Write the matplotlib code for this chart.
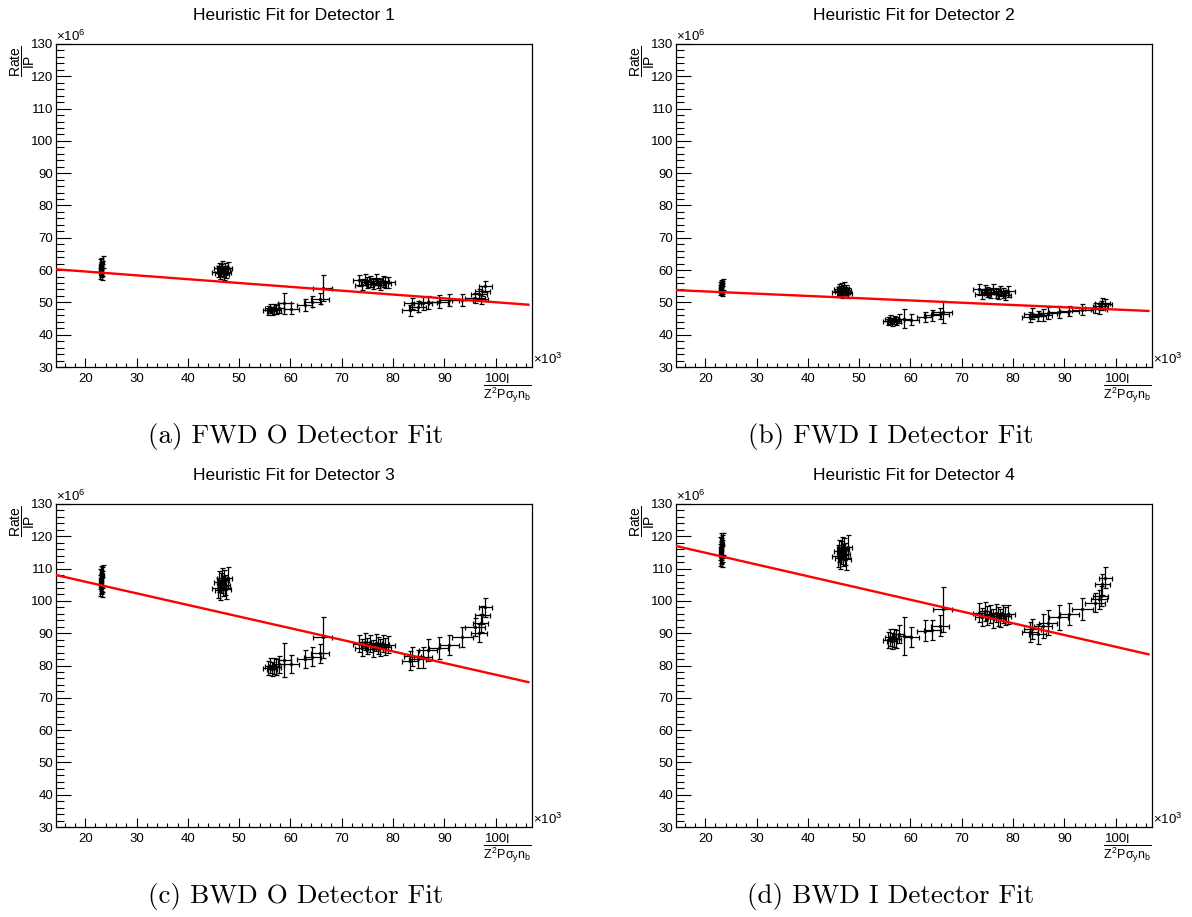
import numpy as np
import matplotlib
matplotlib.use('Agg')
import matplotlib.pyplot as plt
from matplotlib.ticker import MultipleLocator

W, H, DPI = 1192, 917, 100

plt.rcParams['font.family'] = ['Liberation Sans', 'DejaVu Sans']
plt.rcParams['mathtext.fontset'] = 'custom'
plt.rcParams['mathtext.rm'] = 'Liberation Sans'
plt.rcParams['mathtext.it'] = 'Liberation Sans'
plt.rcParams['mathtext.bf'] = 'Liberation Sans:bold'
plt.rcParams['mathtext.sf'] = 'Liberation Sans'

# ---------------- data (x in units of 10^3, rate in units of 10^6) ----------------
x_run = [22.85, 22.95, 23.0, 23.05, 23.1, 23.15, 23.2, 23.25, 23.3, 23.4,
         45.8, 46.1, 46.3, 46.5, 46.7, 46.9, 47.1, 47.3, 47.5, 47.8,
         55.6, 56.0, 56.4, 56.8, 57.2, 57.7, 58.8, 60.2, 62.8, 64.3, 65.8, 66.3,
         73.4, 73.9, 74.5, 75.0, 75.6, 76.1, 76.6, 77.0, 77.5, 78.0, 78.4, 79.0,
         83.3, 83.8, 84.8, 85.9, 86.8, 88.9, 91.0, 93.5, 96.0, 96.8, 97.1, 97.4, 98.0]
x_err = [0.25] * 10 + \
        [1.0, 0.9, 1.0, 0.9, 1.0, 0.9, 1.0, 0.9, 1.0, 0.9] + \
        [0.9, 0.9, 1.0, 1.0, 1.0, 1.1, 1.3, 1.4, 1.5, 1.6, 1.7, 1.8] + \
        [1.2, 1.3, 1.2, 1.3, 1.2, 1.3, 1.2, 1.3, 1.2, 1.3, 1.2, 1.3] + \
        [1.6, 1.7, 1.7, 1.8, 1.8, 1.9, 1.9, 2.0, 2.0, 1.6, 1.5, 1.5, 1.3]
rel_err = [0.03] * 10 + [0.03] * 10 + \
          [0.028, 0.03, 0.028, 0.03, 0.03, 0.032, 0.065, 0.035, 0.035, 0.035, 0.035, 0.072] + \
          [0.03] * 12 + \
          [0.035, 0.035, 0.035, 0.04, 0.04, 0.04, 0.035, 0.035, 0.03, 0.03, 0.03, 0.03, 0.03]

rate_det1 = [59.0, 61.5, 60.2, 62.0, 59.6, 60.8, 58.8, 61.0, 60.0, 62.5,
             59.5, 60.5, 59.0, 60.0, 61.0, 59.6, 58.8, 60.3, 59.4, 60.8,
             47.5, 48.2, 47.3, 48.0, 47.7, 48.4, 49.7, 48.0, 49.2, 50.2, 51.2, 54.5,
             56.8, 55.5, 57.0, 56.2, 56.5, 55.8, 57.2, 56.0, 55.5, 56.6, 56.1, 56.3,
             47.6, 49.7, 48.7, 49.7, 50.0, 50.2, 50.7, 50.8, 51.5, 52.5, 51.0, 53.5, 55.0]
rate_det2 = [53.8, 54.8, 54.2, 55.3, 54.0, 54.6, 53.6, 55.0, 54.3, 55.6,
             53.2, 54.0, 53.5, 54.4, 53.0, 53.8, 54.6, 53.3, 53.9, 52.8,
             44.2, 44.8, 44.0, 44.6, 44.3, 45.0, 45.0, 44.7, 45.5, 46.0, 46.5, 47.0,
             54.0, 52.6, 53.8, 53.2, 52.8, 54.2, 53.0, 52.5, 53.6, 53.0, 52.4, 53.4,
             45.5, 46.5, 45.8, 46.2, 46.8, 47.0, 47.3, 47.8, 48.3, 48.0, 49.0, 49.8, 49.5]
rate_det3 = [104.8, 106.8, 105.5, 107.6, 105.2, 106.4, 104.4, 107.2, 106.0, 108.0,
             104.0, 106.0, 103.5, 105.5, 107.0, 104.5, 106.5, 105.0, 103.8, 107.2,
             79.2, 80.0, 79.0, 79.8, 79.5, 80.4, 81.7, 80.5, 82.0, 82.7, 83.8, 88.7,
             86.8, 85.5, 87.4, 86.0, 86.8, 85.2, 87.0, 86.2, 85.5, 86.8, 85.8, 86.4,
             81.5, 82.9, 82.0, 82.5, 84.8, 85.3, 86.3, 88.7, 91.8, 90.0, 93.1, 95.6, 98.0]
rate_det4 = [114.2, 116.3, 115.2, 117.4, 114.8, 116.0, 114.0, 116.8, 115.5, 117.6,
             113.8, 115.5, 113.3, 115.0, 116.4, 114.2, 116.0, 114.6, 113.0, 116.8,
             88.0, 88.7, 87.6, 88.5, 88.2, 89.7, 89.2, 88.7, 90.8, 91.0, 92.3, 97.4,
             96.4, 95.0, 96.8, 95.5, 96.0, 94.6, 96.2, 95.2, 94.8, 96.0, 95.3, 95.8,
             90.3, 91.3, 89.7, 92.3, 93.3, 94.9, 95.9, 97.4, 99.5, 100.5, 101.5, 105.1, 107.2]
rates = [rate_det1, rate_det2, rate_det3, rate_det4]

# linear fit results: rate = intercept + slope * x
fit_intercept = [61.95, 54.8, 113.15, 122.2]
fit_slope = [-0.119, -0.070, -0.36, -0.364]
fit_range = [14.3, 106.4]

titles = ["Heuristic Fit for Detector 1", "Heuristic Fit for Detector 2",
          "Heuristic Fit for Detector 3", "Heuristic Fit for Detector 4"]
captions = ["(a) FWD O Detector Fit", "(b) FWD I Detector Fit",
            "(c) BWD O Detector Fit", "(d) BWD I Detector Fit"]
x_ticks = [20, 30, 40, 50, 60, 70, 80, 90, 100]
y_ticks = [30, 40, 50, 60, 70, 80, 90, 100, 110, 120, 130]
x_lim = (14.3, 107.1)
y_lim = (30, 130)

# ---------------- figure ----------------
fig = plt.figure(figsize=(W / DPI, H / DPI), dpi=DPI)
fig.patch.set_facecolor('white')


def fx(px):
    return px / W


def fy(py):
    return 1 - py / H


offsets = [(0, 0), (620, 0), (0, 460), (620, 460)]
caption_x = [296, 891, 296, 891]

for i, (dx, dy) in enumerate(offsets):
    l, t, r, b = 56 + dx, 44 + dy, 532 + dx, 367 + dy
    ax = fig.add_axes([fx(l), fy(b), (r - l) / W, (b - t) / H])
    x = np.array(x_run)
    y = np.array(rates[i])
    yerr = y * np.array(rel_err)
    ax.errorbar(x, y, xerr=x_err, yerr=yerr, fmt='o', ms=1.3, color='black',
                ecolor='black', elinewidth=0.9, capsize=1.8, capthick=0.9, zorder=2)
    xf = np.array(fit_range)
    ax.plot(xf, fit_intercept[i] + fit_slope[i] * xf, color='#ff0000', lw=1.7, zorder=3)

    ax.set_xlim(*x_lim)
    ax.set_ylim(*y_lim)
    ax.set_xticks(x_ticks)
    ax.set_yticks(y_ticks)
    ax.xaxis.set_minor_locator(MultipleLocator(2))
    ax.yaxis.set_minor_locator(MultipleLocator(2))
    ax.tick_params(axis='y', which='major', direction='in', length=10.8, width=0.8,
                   labelsize=9.5, pad=2)
    ax.tick_params(axis='y', which='minor', direction='in', length=5.6, width=0.8)
    ax.tick_params(axis='x', which='major', direction='in', length=6.7, width=0.8,
                   labelsize=9.5, pad=4)
    ax.tick_params(axis='x', which='minor', direction='in', length=3.2, width=0.8)
    for s in ax.spines.values():
        s.set_linewidth(0.9)
        s.set_color('black')

    # titles, axis titles, multipliers
    fig.text(fx(294 + dx), fy(16 + dy), titles[i], ha='center', va='center', fontsize=12.5)
    fig.text(fx(23 + dx), fy(46 + dy), r'$\dfrac{Rate}{IP}$', rotation=90,
             ha='center', va='top', fontsize=10)
    fig.text(fx(532 + dx), fy(389 + dy), r'$\dfrac{I}{Z^{2}P\sigma_{y}n_{b}}$',
             ha='right', va='center', fontsize=9)
    fig.text(fx(56 + dx), fy(44 + dy), r'$\times10^{6}$', ha='left', va='bottom', fontsize=9.5)
    fig.text(fx(533 + dx), fy(367 + dy), r'$\times10^{3}$', ha='left', va='bottom', fontsize=9.5)
    fig.text(fx(caption_x[i]), fy(436 + dy), captions[i], ha='center', va='center',
             fontsize=19.5, family='cmr10')

fig.savefig('out.png', dpi=DPI, facecolor='white')
